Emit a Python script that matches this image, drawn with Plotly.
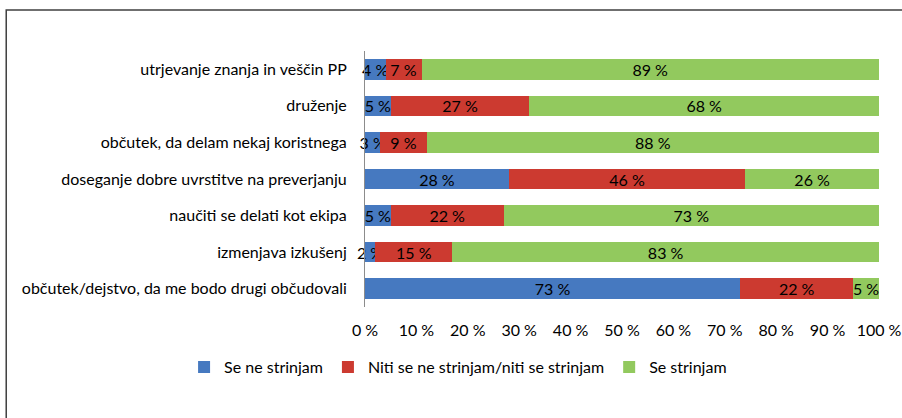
import plotly.graph_objects as go

# Categories, top to bottom as in the picture
categories = [
    "utrjevanje znanja in veščin PP",
    "druženje",
    "občutek, da delam nekaj koristnega",
    "doseganje dobre uvrstitve na preverjanju",
    "naučiti se delati kot ekipa",
    "izmenjava izkušenj",
    "občutek/dejstvo, da me bodo drugi občudovali",
]
se_ne_strinjam = [4, 5, 3, 28, 5, 2, 73]
niti_niti = [7, 27, 9, 46, 22, 15, 22]
se_strinjam = [89, 68, 88, 26, 73, 83, 5]

series_names = ["Se ne strinjam", "Niti se ne strinjam/niti se strinjam", "Se strinjam"]
series_values = [se_ne_strinjam, niti_niti, se_strinjam]
colors = ["#4679C0", "#CC3A30", "#92C95E"]

tick_vals = list(range(0, 101, 10))
tick_text = [f"{v} %" for v in tick_vals]

FONT = "Lato, 'Open Sans', sans-serif"
FS = 16

fig = go.Figure()

for name, vals, col in zip(series_names, series_values, colors):
    fig.add_trace(go.Bar(
        y=categories,
        x=vals,
        name=name,
        orientation="h",
        marker=dict(color=col, line=dict(width=0)),
        text=[f"{v} %" for v in vals],
        textposition="inside",
        insidetextanchor="middle",
        textangle=0,
        constraintext="none",
        textfont=dict(family=FONT, size=FS, color="black"),
        cliponaxis=False,
    ))

fig.update_layout(
    barmode="stack",
    bargap=0.44,
    width=902,
    height=418,
    margin=dict(l=365, r=23, t=51, b=111),
    paper_bgcolor="white",
    plot_bgcolor="white",
    font=dict(family=FONT, size=FS, color="black"),
    showlegend=True,
    legend=dict(
        orientation="h",
        x=-0.352, xanchor="left",
        y=-0.235, yanchor="middle",
        font=dict(family=FONT, size=FS, color="black"),
        traceorder="normal",
        bgcolor="rgba(0,0,0,0)",
    ),
)

fig.update_xaxes(
    range=[0, 100],
    tickvals=tick_vals,
    ticktext=tick_text,
    showgrid=False,
    zeroline=False,
    showline=False,
    automargin=False,
    tickfont=dict(family=FONT, size=FS, color="black"),
    ticklabelstandoff=12,
)
fig.update_yaxes(
    categoryorder="array",
    categoryarray=categories[::-1],
    showline=True,
    linecolor="#8c8c8c",
    linewidth=1,
    showgrid=False,
    automargin=False,
    tickfont=dict(family=FONT, size=FS, color="black"),
    ticklabelstandoff=14,
)

# outer chart frame
fig.add_shape(
    type="rect", xref="paper", yref="paper",
    x0=-0.698, x1=1.06, y0=-0.45, y1=1.16,
    line=dict(color="#404040", width=1.5),
    fillcolor="rgba(0,0,0,0)",
    layer="above",
)

fig.write_html(
    "out.html",
    config={"displayModeBar": False},
    post_script="document.body.style.margin='0';",
)
